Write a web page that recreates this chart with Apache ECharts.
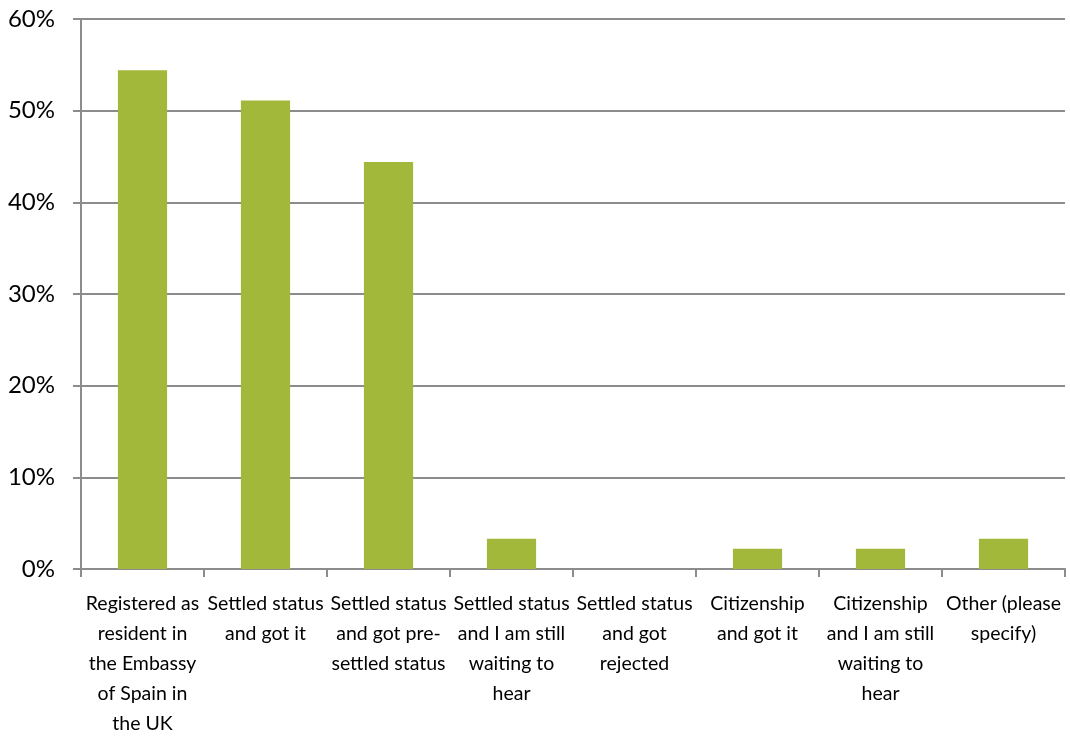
<!DOCTYPE html>
<html>
<head>
<meta charset="utf-8">
<script src="https://cdn.jsdelivr.net/npm/echarts@6/dist/echarts.min.js"></script>
<style>html,body{margin:0;padding:0;background:#fff}#c{width:1070px;height:740px}</style>
</head>
<body>
<div id="c"></div>
<script>
const categories = [
  "Registered as\nresident in\nthe Embassy\nof Spain in\nthe UK",
  "Settled status\nand got it",
  "Settled status\nand got pre-\nsettled status",
  "Settled status\nand I am still\nwaiting to\nhear",
  "Settled status\nand got\nrejected",
  "Citizenship\nand got it",
  "Citizenship\nand I am still\nwaiting to\nhear",
  "Other (please\nspecify)"
];
const values = [54.4, 51.1, 44.4, 3.3, 0, 2.2, 2.2, 3.3];
const yTicks = [0, 10, 20, 30, 40, 50, 60];

const font = "Lato, 'Open Sans', sans-serif";
const chart = echarts.init(document.getElementById('c'));
chart.setOption({
  animation: false,
  grid: { left: 81, right: 5, top: 19, bottom: 171, containLabel: false },
  xAxis: {
    type: 'category',
    data: categories,
    axisLine: { lineStyle: { color: '#8c8c8c', width: 2 } },
    axisTick: { show: true, length: 8, lineStyle: { color: '#8c8c8c', width: 2 } },
    axisLabel: { interval: 0, margin: 20, color: '#000', fontFamily: font, fontSize: 19.5, lineHeight: 30 }
  },
  yAxis: {
    type: 'value',
    min: yTicks[0], max: yTicks[yTicks.length - 1], interval: 10,
    axisLine: { show: true, lineStyle: { color: '#8c8c8c', width: 2 } },
    axisTick: { show: true, length: 8, lineStyle: { color: '#8c8c8c', width: 2 } },
    splitLine: { lineStyle: { color: '#8c8c8c', width: 2 } },
    axisLabel: { margin: 26, color: '#000', fontFamily: font, fontSize: 24, formatter: v => v + '%' }
  },
  series: [{
    type: 'bar',
    data: values,
    barWidth: '40%',
    itemStyle: { color: '#a2b83b' }
  }]
});
</script>
</body>
</html>
